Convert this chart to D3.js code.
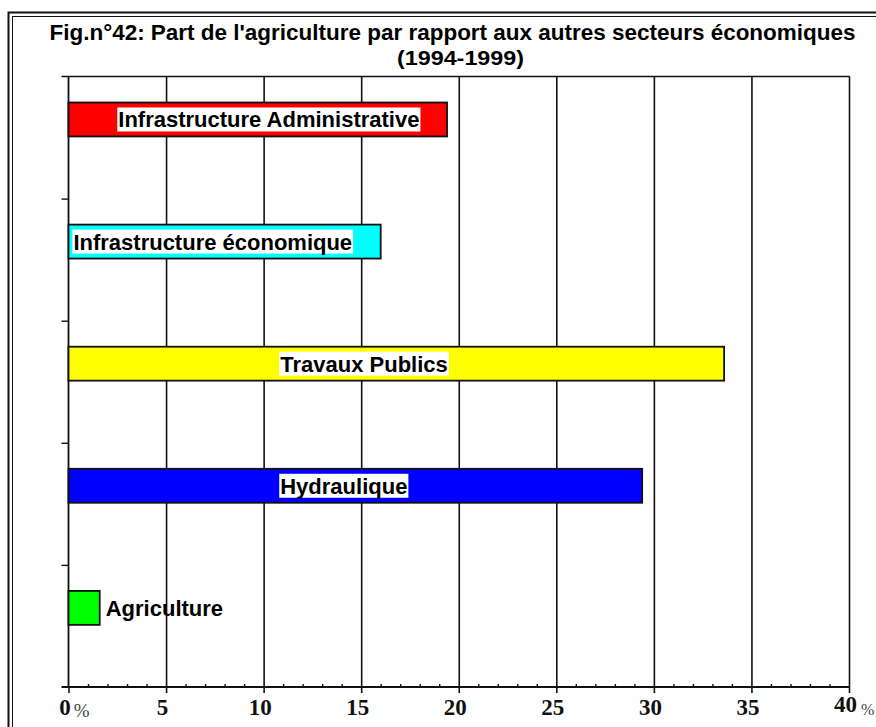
<!DOCTYPE html>
<html>
<head>
<meta charset="utf-8">
<script src="https://cdn.jsdelivr.net/npm/d3@7"></script>
<style>
  html, body { margin: 0; padding: 0; background: #ffffff; }
  svg { display: block; }
</style>
</head>
<body>
<svg id="chart" width="876" height="727"></svg>
<script>
// Sector shares of public investment, 1994-1999 (%)
const categories = [
  "Infrastructure Administrative",
  "Infrastructure économique",
  "Travaux Publics",
  "Hydraulique",
  "Agriculture"
];
const shares = [19.4, 16.0, 33.6, 29.4, 1.6];
const barColors = ["#ff0000", "#00ffff", "#ffff00", "#0000ff", "#00ff00"];
const xTicks = [0, 5, 10, 15, 20, 25, 30, 35, 40];
const xTickLabels = ["0", "5", "10", "15", "20", "25", "30", "35", "40"];
const titleLines = [
  "Fig.n°42: Part de l'agriculture par rapport aux autres secteurs économiques",
  "(1994-1999)"
];

// Where each in-bar label starts, in axis units (null = just after the bar end)
const labelStart = [2.5, 0.2, 10.8, 10.8, null];

(function draw() {
  const svg = d3.select("#chart");

  // Double frame
  svg.append("rect").attr("x", 8.5).attr("y", 12.5).attr("width", 900).attr("height", 800)
    .attr("fill", "#fefefe").attr("stroke", "#111").attr("stroke-width", 2);
  svg.append("rect").attr("x", 12.5).attr("y", 16.5).attr("width", 900).attr("height", 800)
    .attr("fill", "none").attr("stroke", "#111").attr("stroke-width", 1);

  // Title
  const titleFont = "'Liberation Sans Narrow', 'Liberation Sans', Arial, sans-serif";
  svg.append("text").attr("x", 452.5).attr("y", 40).attr("text-anchor", "middle")
    .attr("font-family", titleFont).attr("font-weight", "bold").attr("font-size", 22)
    .attr("textLength", 806).attr("lengthAdjust", "spacingAndGlyphs")
    .text(titleLines[0]);
  svg.append("text").attr("x", 460.5).attr("y", 64.5).attr("text-anchor", "middle")
    .attr("font-family", titleFont).attr("font-weight", "bold").attr("font-size", 21)
    .attr("textLength", 127).attr("lengthAdjust", "spacingAndGlyphs")
    .text(titleLines[1]);

  // Plot geometry
  const pLeft = 68.5, pRight = 849, pTop = 76.5, pBottom = 687;
  const x = d3.scaleLinear().domain([0, 40]).range([pLeft, pRight]);
  const y = d3.scaleBand().domain(categories).range([pTop, pBottom]).padding(0);
  const bw = y.bandwidth();
  const barOffset = bw * 0.213, barH = bw * 0.278;

  const ink = "#111";

  // Vertical gridlines
  svg.append("g")
    .attr("transform", `translate(0,${pBottom})`)
    .call(d3.axisBottom(x).tickValues(xTicks.slice(1)).tickSize(-(pBottom - pTop)).tickFormat(""))
    .call(g => g.select(".domain").remove())
    .call(g => g.selectAll("line").attr("stroke", ink).attr("stroke-width", 1.6));

  // Top line of the frame (extends a little left of the axis)
  svg.append("line").attr("x1", pLeft - 7).attr("x2", pRight + 0.8)
    .attr("y1", pTop).attr("y2", pTop).attr("stroke", ink).attr("stroke-width", 1.6);

  // Left axis with boundary ticks between categories
  const yIdx = d3.scaleLinear().domain([0, categories.length]).range([pTop, pBottom]);
  svg.append("g")
    .attr("transform", `translate(${pLeft},0)`)
    .call(d3.axisLeft(yIdx).tickValues(d3.range(1, categories.length)).tickSize(7).tickFormat(""))
    .call(g => g.select(".domain").attr("stroke", ink).attr("stroke-width", 1.8).attr("d", `M0,${pTop}V${pBottom}`))
    .call(g => g.selectAll("line").attr("stroke", ink).attr("stroke-width", 1.4));

  // Bars
  svg.append("g").selectAll("rect").data(categories).join("rect")
    .attr("x", x(0))
    .attr("y", d => y(d) + barOffset)
    .attr("width", (d, i) => x(shares[i]) - x(0))
    .attr("height", barH)
    .attr("fill", (d, i) => barColors[i])
    .attr("stroke", ink).attr("stroke-width", 1.8);

  // Bar labels
  const labelFont = "'Liberation Sans', Arial, sans-serif";
  categories.forEach((c, i) => {
    const cy = y(c) + barOffset + barH / 2;
    const inside = labelStart[i] !== null;
    const lx = inside ? x(labelStart[i]) : x(shares[i]) + 5;
    const g = svg.append("g");
    const t = g.append("text")
      .attr("x", lx + 1).attr("y", cy + 8)
      .attr("font-family", labelFont).attr("font-weight", "bold").attr("font-size", 22)
      .attr("fill", "#000")
      .text(c);
    if (inside) {
      const bb = t.node().getBBox();
      g.insert("rect", "text")
        .attr("x", lx).attr("y", cy - 12)
        .attr("width", bb.width + 2).attr("height", 24)
        .attr("fill", "#ffffff");
    }
  });

  // Bottom axis: major ticks downward, minor ticks upward
  svg.append("g")
    .attr("transform", `translate(0,${pBottom})`)
    .call(d3.axisBottom(x).tickValues(xTicks).tickSize(6).tickFormat(""))
    .call(g => g.select(".domain").attr("stroke", ink).attr("stroke-width", 2).attr("d", `M${pLeft - 7},0H${pRight + 1}`))
    .call(g => g.selectAll("line").attr("stroke", ink).attr("stroke-width", 1.6));
  svg.append("g")
    .attr("transform", `translate(0,${pBottom})`)
    .call(d3.axisTop(x).tickValues(d3.range(1, 40).filter(v => v % 5 !== 0)).tickSize(3).tickFormat(""))
    .call(g => g.select(".domain").remove())
    .call(g => g.selectAll("line").attr("stroke", ink).attr("stroke-width", 1.4));

  // Tick labels
  const tickFont = "'Liberation Serif', 'Times New Roman', serif";
  xTicks.forEach((v, i) => {
    const last = i === xTicks.length - 1;
    const t = svg.append("text")
      .attr("x", x(v) - 3.5).attr("y", last ? 712 : 715)
      .attr("text-anchor", "middle")
      .attr("font-family", tickFont).attr("font-weight", "bold").attr("font-size", 23)
      .attr("fill", "#111")
      .text(xTickLabels[i]);
    if (i === 0 || last) {
      const bb = t.node().getBBox();
      svg.append("text")
        .attr("x", bb.x + bb.width + (last ? 4 : 3)).attr("y", last ? 715 : 717)
        .attr("font-family", tickFont).attr("font-size", last ? 16 : 19)
        .attr("fill", "#444")
        .text("%");
    }
  });
})();
</script>
</body>
</html>
